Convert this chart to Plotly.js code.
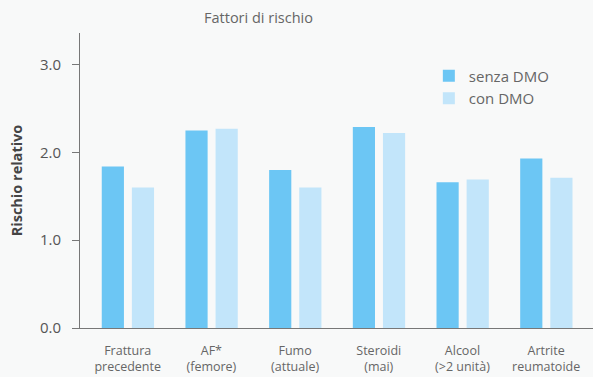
<!DOCTYPE html>
<html><head><meta charset="utf-8">
<script src="https://cdn.plot.ly/plotly-3.0.1.min.js"></script>
<style>html,body{margin:0;padding:0;background:#f8f9f9;}</style>
</head><body>
<div id="chart" style="width:593px;height:377px;"></div>
<script>
const categories = ["Frattura<br>precedente", "AF*<br>(femore)", "Fumo<br>(attuale)", "Steroidi<br>(mai)", "Alcool<br>(>2 unità)", "Artrite<br>reumatoide"];
const senzaDMO = [1.84, 2.25, 1.80, 2.29, 1.66, 1.93];
const conDMO = [1.60, 2.27, 1.60, 2.22, 1.69, 1.71];
const yTicks = [0, 1, 2, 3];
const yTickLabels = ["0.0", "1.0", "2.0", "3.0"];

const font = "Open Sans, Noto Sans, sans-serif";
const data = [
  {type: "bar", name: "senza DMO", x: categories, y: senzaDMO, width: 0.265, offset: -0.31, marker: {color: "#6cc6f4"}},
  {type: "bar", name: "con DMO", x: categories, y: conDMO, width: 0.265, offset: 0.05, marker: {color: "#c2e5fa"}}
];
const layout = {
  width: 593, height: 377,
  paper_bgcolor: "#f8f9f9", plot_bgcolor: "#f8f9f9",
  margin: {l: 80, r: 0, t: 33, b: 49},
  barmode: "overlay",
  font: {family: font, color: "#666"},
  title: {text: "Fattori di rischio", xref: "container", x: 204/593, xanchor: "left",
          yref: "container", y: 1 - 18/377, yanchor: "middle",
          font: {family: font, size: 14.5, color: "#666"}},
  xaxis: {range: [-0.57, 5.56], showline: true, linecolor: "#777", linewidth: 1,
          ticks: "", showgrid: false, zeroline: false, ticklabelstandoff: 11,
          tickfont: {family: font, size: 12.5, color: "#666"}, fixedrange: true},
  yaxis: {range: [0, 3.36], tickvals: yTicks, ticktext: yTickLabels,
          showline: true, linecolor: "#777", linewidth: 1,
          ticks: "outside", ticklen: 7, tickcolor: "#777", showgrid: false, zeroline: false,
          ticklabelstandoff: 8,
          tickfont: {family: font, size: 15, color: "#555"},
          title: {text: "<b>Rischio relativo</b>", standoff: 13, font: {family: font, size: 14.5, color: "#444"}}},
  showlegend: true,
  legend: {x: 0.68, y: 0.91, xanchor: "left", yanchor: "top", bgcolor: "rgba(0,0,0,0)",
           font: {family: font, size: 15, color: "#666"}, traceorder: "normal", itemwidth: 30}
};
Plotly.newPlot("chart", data, layout, {displayModeBar: false, staticPlot: true});
</script>
</body></html>
